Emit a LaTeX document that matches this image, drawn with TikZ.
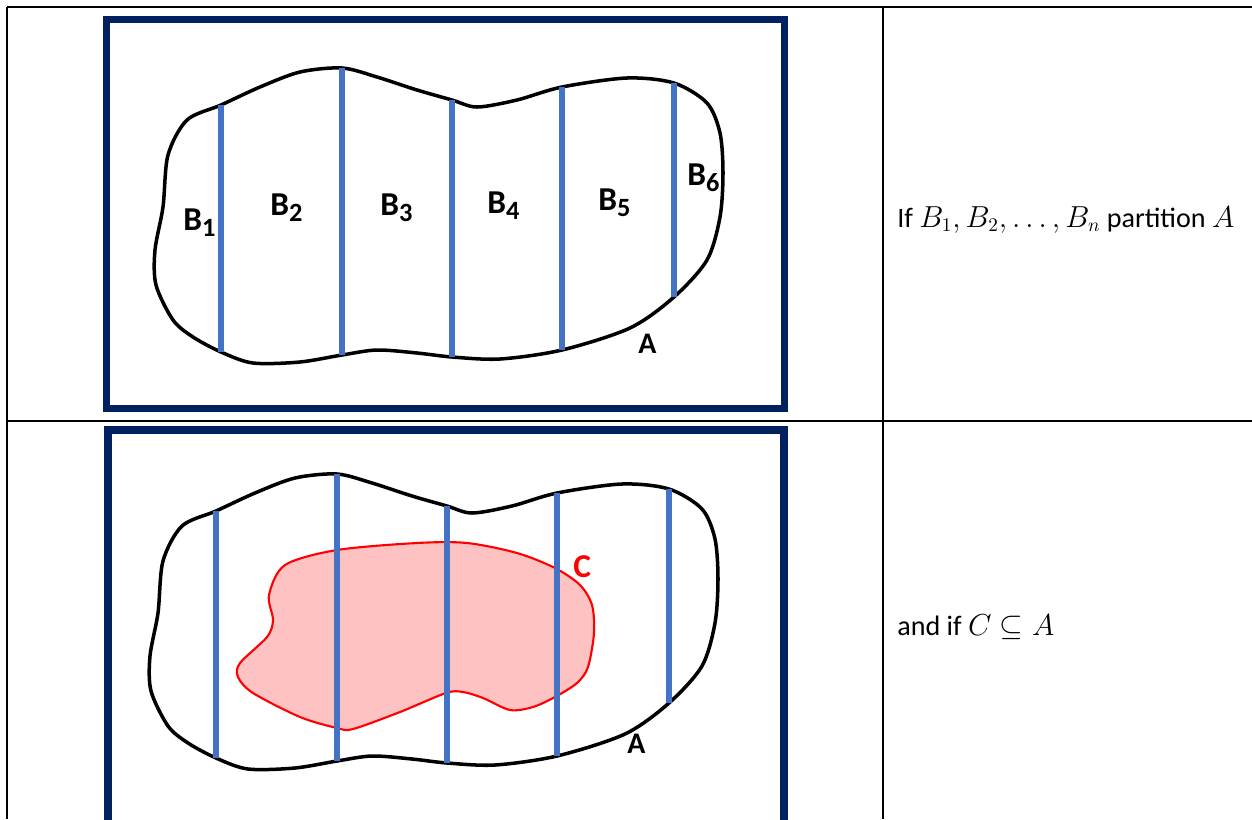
\documentclass[tikz,border=0pt]{standalone}
\usepackage{fontspec}
\setmainfont{Carlito}
\usetikzlibrary{positioning}
\definecolor{navyframe}{HTML}{002060}
\definecolor{cutblue}{HTML}{4472C4}
\newcommand{\blab}[2]{#1\raisebox{-0.2em}{\fontsize{15}{15}\selectfont #2}}

\tikzset{
  blob/.pic={
    \draw[outline] plot[smooth cycle] coordinates {(221,105) (260,87) (300,72) (342,68) (377,77) (417,90) (452,100) (477,107) (517,100) (562,87) (627,78) (674,83) (707,103) (720,133) (723,173) (720,217) (707,260) (674,297) (630,328) (562,350) (500,359) (452,357) (417,353) (377,350) (342,355) (300,362) (253,363) (221,352) (193,337) (173,320) (156,285) (155,250) (163,207) (168,155) (187,120)};
  },
  cuts/.pic={
    \foreach \x/\ya/\yb in {221/105/352, 342/68/355, 452/100/357, 562/87/350, 674/83/297}
      \draw[cut] (\x,\ya) -- (\x,\yb);
  }
}

\begin{document}
\begin{tikzpicture}[x=0.02cm, y=-0.02cm,
  rule/.style={black, line width=1.1pt},
  frame/.style={navyframe, line width=4pt},
  outline/.style={black, line width=2pt},
  cut/.style={cutblue, line width=3.2pt},
  lab/.style={anchor=base west, inner sep=0pt, font=\fontsize{19}{19}\selectfont\bfseries},
  txt/.style={anchor=base west, inner sep=0pt, font=\fontsize{16}{19}\selectfont}]
  \useasboundingbox (0,0) rectangle (1252,819);
  \clip (0,0) rectangle (1252,819);
  \fill[white] (0,0) rectangle (1252,819);

  \draw[rule] (7,7) -- (1252,7);
  \draw[rule] (7,421) -- (1252,421);
  \draw[rule] (7,7) -- (7,819);
  \draw[rule] (883,7) -- (883,819);

  \draw[frame] (106.5,19.5) rectangle (784.5,408.5);
  \pic at (0,0) {blob};
  \pic at (0,0) {cuts};
  \node[lab] (b1) at (183,230) {\blab{B}{1}};
  \node[lab] (b2) at (270,215) {\blab{B}{2}};
  \node[lab] (b3) at (380,215) {\blab{B}{3}};
  \node[lab] (b4) at (487,213) {\blab{B}{4}};
  \node[lab] (b5) at (598,210) {\blab{B}{5}};
  \node[lab] (b6) at (687,185) {\blab{B}{6}};
  \node[lab, font=\fontsize{17}{17}\selectfont\bfseries] (la1) at (638,353) {A};
  \node[txt] (txt1) at (897,227) {If $B_1, B_2, \ldots, B_n$ partition $A$};

  \draw[frame] (108,430) rectangle (784,826);
  \pic at (-5,406) {blob};
  \filldraw[draw=red, fill=red!24, line width=1.2pt] plot[smooth cycle] coordinates {(285,565) (337,550) (417,543) (467,543) (517,553) (555,568) (580,585) (592,605) (594,633) (588,667) (577,683) (555,697) (533,707) (510,710) (483,698) (463,692) (446,693) (400,712) (353,729) (337,728) (300,717) (253,693) (238,677) (240,663) (267,637) (273,620) (269,595)};
  \pic at (-5,406) {cuts};
  \node[lab, text=red] (lc) at (573,577) {C};
  \node[lab, font=\fontsize{17}{17}\selectfont\bfseries] (la2) at (627,753) {A};
  \node[txt] (txt2) at (897,635) {and if $C \subseteq A$};
\end{tikzpicture}
\end{document}
